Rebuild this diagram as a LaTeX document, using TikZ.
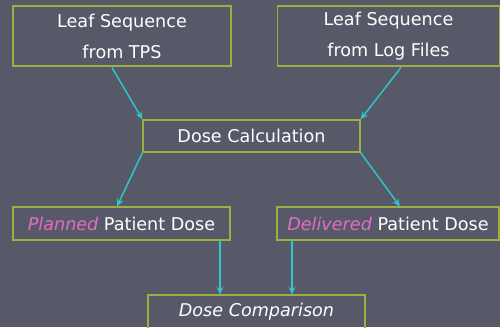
\documentclass[tikz,border=0pt]{standalone}
\usepackage{fontspec}
\setmainfont{DejaVu Sans}
\usetikzlibrary{arrows.meta}
\definecolor{bg}{HTML}{575968}
\definecolor{boxline}{HTML}{9BB040}
\definecolor{arr}{HTML}{2EC6C8}
\definecolor{pinkish}{HTML}{E46CC8}
\tikzset{
  flowbox/.style={draw=boxline, line width=1.2pt, text=white, inner sep=0pt, font=\fontsize{17.6}{31}\selectfont, align=center},
  flowarrow/.style={draw=arr, line width=1.5pt, -{Stealth[length=8pt,width=7pt,inset=3pt]}}
}
\begin{document}
\begin{tikzpicture}[x=1pt,y=-1pt]
\fill[bg] (0,0) rectangle (500,327);
\useasboundingbox (0,0) rectangle (500,327);
\begin{scope}
\clip (0,0) rectangle (500,327);
\node[flowbox, minimum width=218pt, minimum height=60pt] (tps) at (122,36) {Leaf Sequence\\from TPS};
\node[flowbox, minimum width=222pt, minimum height=60pt] (log) at (388.5,36) {Leaf Sequence\\from Log Files};
\node[flowbox, minimum width=217pt, minimum height=32pt] (calc) at (251.5,136) {Dose Calculation};
\node[flowbox, minimum width=217pt, minimum height=33pt] (plan) at (121.5,223.5) {\textcolor{pinkish}{\itshape Planned} Patient Dose};
\node[flowbox, minimum width=222pt, minimum height=33pt] (deliv) at (388,223.5) {\textcolor{pinkish}{\itshape Delivered} Patient Dose};
\node[flowbox, minimum width=217pt, minimum height=60pt] (comp) at (256.5,325) {};
\node[text=white, font=\fontsize{17.6}{31}\selectfont\itshape] (comptext) at (256.5,312) {Dose Comparison};
\end{scope}
\coordinate (a1) at (112,67.5);
\coordinate (a2) at (401,67.5);
\coordinate (p1) at (117,206.5);
\coordinate (d1) at (400,206.5);
\coordinate (pc) at (220,294.5);
\coordinate (dc) at (292,294.5);
\draw[flowarrow] (a1) -- (calc.north west);
\draw[flowarrow] (a2) -- (calc.north east);
\draw[flowarrow] (calc.south west) -- (p1);
\draw[flowarrow] (calc.south east) -- (d1);
\draw[flowarrow] (plan.south -| pc) -- (pc);
\draw[flowarrow] (deliv.south -| dc) -- (dc);
\end{tikzpicture}
\end{document}
